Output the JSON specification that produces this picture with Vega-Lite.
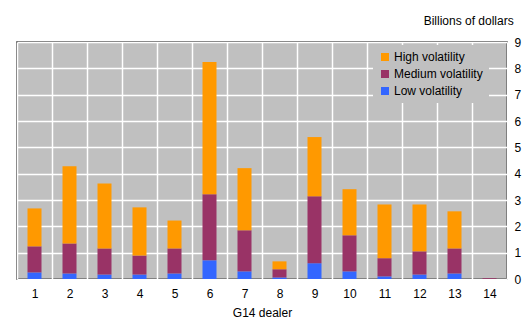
{
  "$schema": "https://vega.github.io/schema/vega-lite/v6.json",
  "autosize": "none",
  "width": 490,
  "height": 237,
  "padding": {"left": 17, "top": 42, "right": 25, "bottom": 49},
  "background": "#ffffff",
  "config": {
    "font": "Liberation Sans",
    "view": {"fill": "#C0C0C0", "stroke": "#333333", "strokeWidth": 1.5},
    "axis": {"labelFont": "Liberation Sans", "titleFont": "Liberation Sans", "labelColor": "#000000", "titleColor": "#000000", "labelFontSize": 12, "titleFontSize": 12, "titleFontWeight": "normal"},
    "legend": {"labelFont": "Liberation Sans", "labelFontSize": 12, "labelColor": "#000000"}
  },
  "title": {"text": "Billions of dollars", "anchor": "end", "fontSize": 12, "fontWeight": "normal", "font": "Liberation Sans", "color": "#000000", "offset": 8, "dx": -7},
  "data": {"values": [
    {"dealer": "1", "volatility": "Low volatility", "level": 1, "value": 0.25},
    {"dealer": "1", "volatility": "Medium volatility", "level": 2, "value": 0.99},
    {"dealer": "1", "volatility": "High volatility", "level": 3, "value": 1.44},
    {"dealer": "2", "volatility": "Low volatility", "level": 1, "value": 0.21},
    {"dealer": "2", "volatility": "Medium volatility", "level": 2, "value": 1.14},
    {"dealer": "2", "volatility": "High volatility", "level": 3, "value": 2.93},
    {"dealer": "3", "volatility": "Low volatility", "level": 1, "value": 0.17},
    {"dealer": "3", "volatility": "Medium volatility", "level": 2, "value": 0.99},
    {"dealer": "3", "volatility": "High volatility", "level": 3, "value": 2.47},
    {"dealer": "4", "volatility": "Low volatility", "level": 1, "value": 0.17},
    {"dealer": "4", "volatility": "Medium volatility", "level": 2, "value": 0.72},
    {"dealer": "4", "volatility": "High volatility", "level": 3, "value": 1.83},
    {"dealer": "5", "volatility": "Low volatility", "level": 1, "value": 0.21},
    {"dealer": "5", "volatility": "Medium volatility", "level": 2, "value": 0.95},
    {"dealer": "5", "volatility": "High volatility", "level": 3, "value": 1.06},
    {"dealer": "6", "volatility": "Low volatility", "level": 1, "value": 0.71},
    {"dealer": "6", "volatility": "Medium volatility", "level": 2, "value": 2.51},
    {"dealer": "6", "volatility": "High volatility", "level": 3, "value": 5.02},
    {"dealer": "7", "volatility": "Low volatility", "level": 1, "value": 0.29},
    {"dealer": "7", "volatility": "Medium volatility", "level": 2, "value": 1.56},
    {"dealer": "7", "volatility": "High volatility", "level": 3, "value": 2.36},
    {"dealer": "8", "volatility": "Low volatility", "level": 1, "value": 0.06},
    {"dealer": "8", "volatility": "Medium volatility", "level": 2, "value": 0.31},
    {"dealer": "8", "volatility": "High volatility", "level": 3, "value": 0.30},
    {"dealer": "9", "volatility": "Low volatility", "level": 1, "value": 0.60},
    {"dealer": "9", "volatility": "Medium volatility", "level": 2, "value": 2.54},
    {"dealer": "9", "volatility": "High volatility", "level": 3, "value": 2.25},
    {"dealer": "10", "volatility": "Low volatility", "level": 1, "value": 0.29},
    {"dealer": "10", "volatility": "Medium volatility", "level": 2, "value": 1.37},
    {"dealer": "10", "volatility": "High volatility", "level": 3, "value": 1.75},
    {"dealer": "11", "volatility": "Low volatility", "level": 1, "value": 0.10},
    {"dealer": "11", "volatility": "Medium volatility", "level": 2, "value": 0.69},
    {"dealer": "11", "volatility": "High volatility", "level": 3, "value": 2.04},
    {"dealer": "12", "volatility": "Low volatility", "level": 1, "value": 0.17},
    {"dealer": "12", "volatility": "Medium volatility", "level": 2, "value": 0.88},
    {"dealer": "12", "volatility": "High volatility", "level": 3, "value": 1.78},
    {"dealer": "13", "volatility": "Low volatility", "level": 1, "value": 0.21},
    {"dealer": "13", "volatility": "Medium volatility", "level": 2, "value": 0.95},
    {"dealer": "13", "volatility": "High volatility", "level": 3, "value": 1.41},
    {"dealer": "14", "volatility": "Low volatility", "level": 1, "value": 0.0},
    {"dealer": "14", "volatility": "Medium volatility", "level": 2, "value": 0.03},
    {"dealer": "14", "volatility": "High volatility", "level": 3, "value": 0.0}
  ]},
  "mark": {"type": "bar", "size": 14},
  "encoding": {
    "x": {
      "field": "dealer", "type": "ordinal", "sort": null,
      "scale": {"paddingInner": 0, "paddingOuter": 0},
      "axis": {"title": "G14 dealer", "labelAngle": 0, "labelPadding": 9, "titlePadding": 8, "ticks": false, "domain": false, "grid": true, "tickBand": "extent", "gridColor": "#ffffff", "gridWidth": 1.5, "gridOpacity": 1}
    },
    "y": {
      "field": "value", "type": "quantitative", "stack": "zero",
      "scale": {"domain": [0, 9], "nice": false},
      "axis": {"orient": "right", "title": null, "values": [0,1,2,3,4,5,6,7,8,9], "ticks": false, "domain": false, "labelPadding": 7, "gridColor": "#ffffff", "gridWidth": 1.5, "gridOpacity": 1}
    },
    "order": {"field": "level", "type": "quantitative", "sort": "ascending"},
    "color": {
      "field": "volatility", "type": "nominal",
      "scale": {"domain": ["High volatility", "Medium volatility", "Low volatility"], "range": ["#FF9900", "#993366", "#3366FF"]},
      "legend": {"title": null, "orient": "none", "legendX": 356, "legendY": 3, "fillColor": "#C0C0C0", "padding": 6, "symbolType": "square", "symbolSize": 64, "symbolStrokeWidth": 0, "symbolOpacity": 1, "labelOffset": 3, "rowPadding": 5}
    }
  }
}
